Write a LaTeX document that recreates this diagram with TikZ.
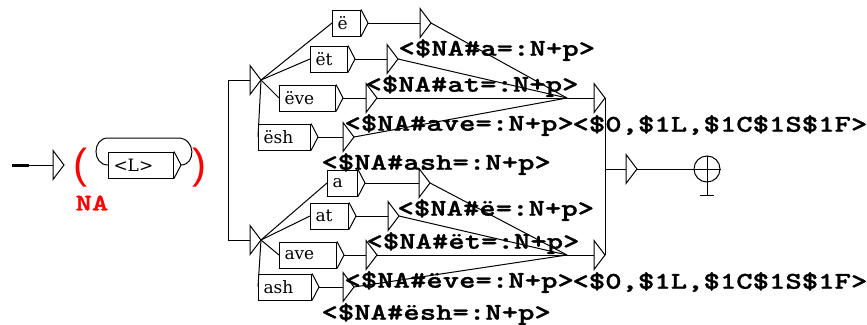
\documentclass[tikz,border=0pt]{standalone}
\usepackage{fontspec}
\usepackage{tikz}
\newfontfamily\boxfont{DejaVu Serif}
\newfontfamily\outfont{lmmonolt10-bold}[Extension=.otf,FakeStretch=1.3,FakeBold=1.2]
\newfontfamily\parfont{Liberation Sans}

\begin{document}
\begin{tikzpicture}[
					x=1pt,y=-1pt,
					line width=1pt,
					lbox/.style={draw,anchor=west,inner xsep=5pt,inner ysep=0pt,minimum height=26pt,align=left,
						font=\boxfont\fontsize{17pt}{17pt}\selectfont,
						append after command={\pgfextra{\draw (\tikzlastnode.north east) -- ([xshift=7pt]\tikzlastnode.east) -- (\tikzlastnode.south east);}}},
					otri/.style={anchor=west,inner sep=0pt,minimum width=10pt,minimum height=28pt,
						append after command={\pgfextra{\draw (\tikzlastnode.north west) -- (\tikzlastnode.east) -- (\tikzlastnode.south west) -- cycle;}}},
					olab/.style={anchor=west,inner sep=0pt,font=\outfont\fontsize{24pt}{24pt}\selectfont},
					vpar/.style={text=red,inner sep=0pt,font=\parfont\fontsize{42pt}{42pt}\selectfont}
					]
					\useasboundingbox (0,0) rectangle (867,324);
					\coordinate (st) at (12,165);
					\node[otri] (init) at (53,165) {};
					\draw[line width=3pt] (st) -- ++(17,0);
					\draw (st) -- (init.west);
					\node[vpar] (po) at (80,168) {(};
					\node[vpar] (pc) at (199,168) {)};
					\node[olab,anchor=center,text=red] (vn) at (92,203) {NA};
					\node[lbox,text width=55pt] (lb) at (108,165) {<L>};
					\draw (lb.west) .. controls (92,165) and (92,138) .. (108,138) -- (178,138) .. controls (196,138) and (196,165) .. ([xshift=7pt]lb.east);
					\coordinate (ju) at (228,80);
					\coordinate (jl) at (228,240);
					\node[otri] (su) at (250,80) {};
					\node[otri] (sl) at (250,240) {};
					\draw (ju) -- (su.west);
					\draw (ju) -- (jl) -- (sl.west);
					\coordinate (mu) at (567,98);
					\coordinate (ml) at (567,255);
					\foreach \q/\bx/\y/\tw/\t/\ox/\o in {1/332/23/18/ë/420/a,2/310/59/27/ët/387/at,3/279/98/46/ëve/366/ave,4/258/137/42/ësh/343/ash}{
						\node[lbox,text width=\tw pt] (bu\q) at (\bx,\y) {\t};
						\node[otri] (ou\q) at (\ox,\y) {};
						\node[olab] (lu\q) at ([xshift=-22pt,yshift=-27pt]ou\q.west) {<\$NA\#\o=:N+p>};
						\draw (su.east) -- (bu\q.west);
						\draw ([xshift=7pt]bu\q.east) -- (ou\q.west);
						\draw (ou\q.east) -- (mu);
					}
					\foreach \q/\bx/\y/\tw/\t/\ox/\o in {1/327/183/20/a/419/ë,2/310/216/28/at/388/ët,3/279/255/47/ave/366/ëve,4/258/287/43/ash/343/ësh}{
						\node[lbox,text width=\tw pt] (bl\q) at (\bx,\y) {\t};
						\node[otri] (ol\q) at (\ox,\y) {};
						\node[olab] (ll\q) at ([xshift=-22pt,yshift=-27pt]ol\q.west) {<\$NA\#\o=:N+p>};
						\draw (sl.east) -- (bl\q.west);
						\draw ([xshift=7pt]bl\q.east) -- (ol\q.west);
						\draw (ol\q.east) -- (ml);
					}
					\node[otri] (ru) at (594,98) {};
					\node[otri] (rl) at (594,255) {};
					\node[olab] (lru) at ([xshift=-22pt,yshift=-27pt]ru.west) {<\$0,\$1L,\$1C\$1S\$1F>};
					\node[olab] (lrl) at ([xshift=-22pt,yshift=-27pt]rl.west) {<\$0,\$1L,\$1C\$1S\$1F>};
					\draw (mu) -- (ru.west);
					\draw (ml) -- (rl.west);
					\node[otri] (fin) at (626,169) {};
					\draw (ru.east) -- (rl.east);
					\draw (ru.east |- fin.west) -- (fin.west);
					\node[circle,draw,minimum size=26pt,inner sep=0pt] (end) at (707,169) {};
					\draw (fin.east) -- (end.west);
					\draw (end.north) -- (end.south) (end.west) -- (end.east);
					\draw (end.south) -- ++(0,13) coordinate (foot);
					\draw ([xshift=-7pt]foot) -- ([xshift=7pt]foot);
				\end{tikzpicture}
\end{document}
